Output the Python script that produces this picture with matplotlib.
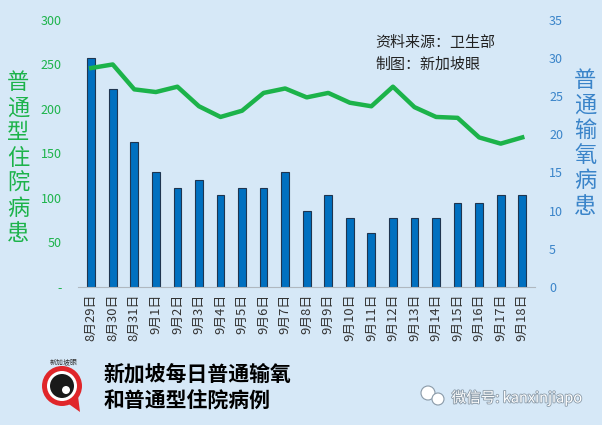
import matplotlib.pyplot as plt
import numpy as np
from matplotlib.patches import Circle, Polygon
from matplotlib.ticker import FuncFormatter
import matplotlib.patheffects as pe

plt.rcParams['font.family'] = ['Noto Sans CJK SC', 'DejaVu Sans']

# data
dates = ["8月29日", "8月30日", "8月31日", "9月1日", "9月2日", "9月3日", "9月4日",
         "9月5日", "9月6日", "9月7日", "9月8日", "9月9日", "9月10日", "9月11日",
         "9月12日", "9月13日", "9月14日", "9月15日", "9月16日", "9月17日", "9月18日"]
oxygen = [30, 26, 19, 15, 13, 14, 12, 13, 13, 15, 10, 12, 9, 7, 9, 9, 9, 11, 11, 12, 12]
hospital = [246, 250, 222, 219, 225, 203, 191, 198, 218, 223, 213, 218, 207, 203,
            225, 202, 191, 190, 168, 161, 168]

bg = '#d6e8f7'
green = '#1cb34a'
blue = '#0070c0'
bluetxt = '#3a84c9'

fig = plt.figure(figsize=(6.02, 4.25), dpi=100, facecolor=bg)
ax = fig.add_axes([0.130, 0.325, 0.759, 0.628])
ax.set_facecolor('none')
ax2 = ax.twinx()

x = np.arange(len(dates))

# bars on the right axis, line on the left axis
ax2.bar(x, oxygen, width=0.36, color=blue, edgecolor='#1f3550', linewidth=0.8, zorder=2)
ax2.set_ylim(0, 35)
ax2.set_yticks(range(0, 36, 5))
ax.set_ylim(0, 300)
ax.set_yticks(range(0, 301, 50))
ax.plot(x, hospital, color=green, lw=3.2, solid_joinstyle='round', zorder=5)
ax.set_zorder(ax2.get_zorder() + 1)
ax.set_xlim(-0.6, len(dates) - 0.4)

ax.yaxis.set_major_formatter(FuncFormatter(lambda v, p: '-' if v == 0 else '%d' % v))
ax.tick_params(axis='y', colors=green, labelsize=9, length=0, pad=12)
ax2.tick_params(axis='y', colors=bluetxt, labelsize=9, length=0, pad=10)
ax.set_xticks(x)
ax.set_xticklabels(dates, rotation=90, fontsize=9.3, color='#333333')
ax.tick_params(axis='x', length=0, pad=5)

for a in (ax, ax2):
    for s in a.spines.values():
        s.set_visible(False)
ax.spines['bottom'].set_visible(True)
ax.spines['bottom'].set_color('#b0b8c0')

# vertical axis titles
fig.text(0.030, 0.628, "\n".join("普通型住院病患"), color=green, fontsize=16,
         ha='center', va='center', linespacing=1.12)
fig.text(0.972, 0.663, "\n".join("普通输氧病患"), color=bluetxt, fontsize=16,
         ha='center', va='center', linespacing=1.12)

# source notes
fig.text(0.624, 0.900, "资料来源：卫生部", fontsize=10.8, color='#222222', va='center')
fig.text(0.624, 0.847, "制图：新加坡眼", fontsize=10.8, color='#222222', va='center')

# bottom title
fig.text(0.172, 0.089, "新加坡每日普通输氧\n和普通型住院病例", fontsize=15,
         fontweight='bold', color='black', va='center', linespacing=1.35)

# logo
lx, ly = 62, 39
fig.patches.append(Polygon([[lx + 4, ly - 16], [lx + 16, ly - 10], [lx + 18, ly - 26]],
                           closed=True, transform=None, facecolor='#e0262a', zorder=3))
fig.patches.append(Circle((lx, ly), 20, transform=None, facecolor='#e0262a', zorder=3))
fig.patches.append(Circle((lx, ly), 15, transform=None, facecolor='white', zorder=4))
fig.patches.append(Circle((lx, ly), 12, transform=None, facecolor='#1a1a1a', zorder=5))
fig.patches.append(Circle((lx + 4, ly - 4), 4, transform=None, facecolor='white', zorder=6))
fig.text(0.105, 0.148, "新加坡眼", fontsize=5, color='#333333', ha='center', va='center')

# watermark
fig.text(0.859, 0.064, "微信号: kanxinjiapo", fontsize=10.5, color='white',
         ha='center', va='center',
         path_effects=[pe.withStroke(linewidth=1.2, foreground='#8a9aa8')])
fig.patches.append(Circle((428, 32), 7, transform=None, facecolor='white',
                          edgecolor='#8a9aa8', lw=0.8))
fig.patches.append(Circle((438, 26), 6, transform=None, facecolor='white',
                          edgecolor='#8a9aa8', lw=0.8))

fig.savefig('out.png', dpi=100, facecolor=bg)
